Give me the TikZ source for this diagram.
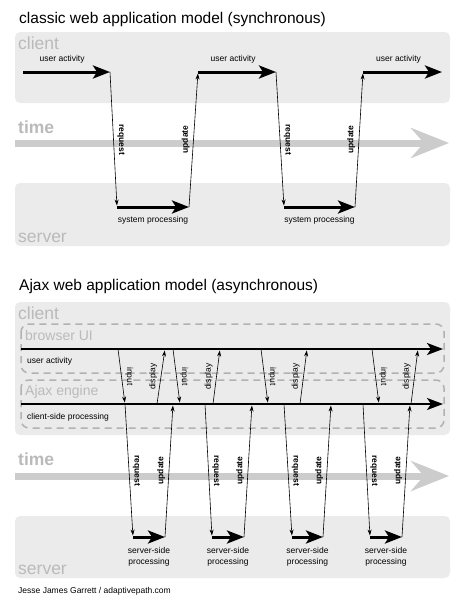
\documentclass[tikz,border=0pt]{standalone}
\usepackage{fontspec}
\setmainfont{Liberation Sans}
\usepackage{tikz}
\usetikzlibrary{arrows.meta}

\definecolor{boxgrey}{HTML}{EBEBEB}
\definecolor{labelgrey}{HTML}{BABABA}
\definecolor{timegrey}{HTML}{CCCCCC}
\definecolor{dashgrey}{HTML}{B2B2B2}

\tikzset{
  zonebox/.style={fill=boxgrey, rounded corners=5pt},
  dashbox/.style={draw=dashgrey, line width=1.5pt, dash pattern=on 7pt off 5pt,
     rounded corners=8pt},
  title/.style={anchor=base west, inner sep=0pt, font=\fontsize{15.5}{18}\selectfont},
  zone/.style={anchor=base west, inner sep=0pt, text=labelgrey,
     font=\fontsize{17.5}{20}\selectfont},
  subzone/.style={zone, font=\fontsize{14}{16}\selectfont},
  timelbl/.style={zone, font=\bfseries\fontsize{17.5}{20}\selectfont},
  timeline/.style={draw=timegrey, line width=7pt,
     -{Stealth[length=38pt, width=30pt, inset=13pt]}},
  flow/.style={line width=3pt, -{Stealth[length=17pt, width=13pt, inset=4pt]}},
  uitrack/.style={line width=2pt, -{Stealth[length=16pt, width=12pt, inset=4pt]}},
  msg/.style={line width=0.6pt, -{Stealth[length=6pt, width=4pt]}, shorten >=1.5pt},
  smalltxt/.style={font=\fontsize{8.5}{11}\selectfont},
  goesdown/.style={smalltxt, anchor=south, rotate=-90, inner sep=3.5pt},
  goesup/.style={smalltxt, anchor=south, rotate=90, inner sep=3.5pt},
  reqlbl/.style={goesdown, font=\bfseries\fontsize{8.5}{11}\selectfont},
  updlbl/.style={goesup, font=\bfseries\fontsize{8.5}{11}\selectfont},
}

\begin{document}
\begin{tikzpicture}[x=1pt, y=-1pt]
   \useasboundingbox (0,0) rectangle (475,598);

   % classic model
   \node[title] (t1) at (19,23) {classic web application model (synchronous)};
   \fill[zonebox] (15,32) rectangle (450,103);
   \fill[zonebox] (15,183) rectangle (450,246);
   \node[zone] (cl1) at (18,49) {client};
   \node[timelbl] (tm1) at (18,133) {time};
   \node[zone] (sv1) at (18,242) {server};

   \coordinate (ts1) at (15,143);
   \coordinate (te1) at (449,143);
   \draw[timeline] (ts1) -- (te1);

   \coordinate (a1) at (23,72);
   \coordinate (a2) at (110,72);
   \coordinate (a3) at (198,72);
   \coordinate (a4) at (276,72);
   \coordinate (a5) at (363,72);
   \coordinate (a6) at (442,72);
   \coordinate (b1) at (117,207);
   \coordinate (b2) at (189,207);
   \coordinate (b3) at (284,207);
   \coordinate (b4) at (355,207);

   \draw[flow] (a1) -- node[smalltxt, pos=.45, above=4pt] {user activity} (a2);
   \draw[msg] (a2) -- node[reqlbl] {request} (b1);
   \draw[flow] (b1) -- node[smalltxt, below=5pt] {system processing} (b2);
   \draw[msg] (b2) -- node[updlbl] {update} (a3);
   \draw[flow] (a3) -- node[smalltxt, pos=.45, above=4pt] {user activity} (a4);
   \draw[msg] (a4) -- node[reqlbl] {request} (b3);
   \draw[flow] (b3) -- node[smalltxt, below=5pt] {system processing} (b4);
   \draw[msg] (b4) -- node[updlbl] {update} (a5);
   \draw[flow] (a5) -- node[smalltxt, pos=.45, above=4pt] {user activity} (a6);

   % Ajax model
   \node[title] (t2) at (19,290) {Ajax web application model (asynchronous)};
   \fill[zonebox] (15,302) rectangle (450,435);
   \fill[zonebox] (15,516) rectangle (450,578);
   \draw[dashbox] (21,324) rectangle (444,373);
   \draw[dashbox] (21,380) rectangle (444,428);
   \node[zone] (cl2) at (18,319) {client};
   \node[subzone] (bui) at (25,340) {browser UI};
   \node[subzone] (eng) at (25,395) {Ajax engine};
   \node[timelbl] (tm2) at (18,465) {time};
   \node[zone] (sv2) at (18,574) {server};

   \coordinate (ts2) at (15,476);
   \coordinate (te2) at (449,476);
   \draw[timeline] (ts2) -- (te2);

   \coordinate (ui0) at (21,349);
   \coordinate (ui9) at (443,349);
   \coordinate (en0) at (21,404);
   \coordinate (en9) at (443,404);
   \draw[uitrack] (ui0) -- (ui9);
   \draw[uitrack] (en0) -- (en9);
   \node[smalltxt, anchor=base west, inner sep=0pt] (ua) at (27,363) {user activity};
   \node[smalltxt, anchor=base west, inner sep=0pt] (csp) at (27,419) {client-side processing};

   % browser UI <-> Ajax engine
   \coordinate (i1a) at (118,349);  \coordinate (i1b) at (125,404);
   \coordinate (i2a) at (173,349);  \coordinate (i2b) at (180,404);
   \coordinate (i3a) at (261,349);  \coordinate (i3b) at (268,404);
   \coordinate (i4a) at (372,349);  \coordinate (i4b) at (379,404);
   \coordinate (d1a) at (157,404);  \coordinate (d1b) at (165,349);
   \coordinate (d2a) at (213,404);  \coordinate (d2b) at (220,349);
   \coordinate (d3a) at (300,404);  \coordinate (d3b) at (307,349);
   \coordinate (d4a) at (411,404);  \coordinate (d4b) at (418,349);

   \draw[msg] (i1a) -- node[goesdown] {input} (i1b);
   \draw[msg] (d1a) -- node[goesup] {display} (d1b);
   \draw[msg] (i2a) -- node[goesdown] {input} (i2b);
   \draw[msg] (d2a) -- node[goesup] {display} (d2b);
   \draw[msg] (i3a) -- node[goesdown] {input} (i3b);
   \draw[msg] (d3a) -- node[goesup] {display} (d3b);
   \draw[msg] (i4a) -- node[goesdown] {input} (i4b);
   \draw[msg] (d4a) -- node[goesup] {display} (d4b);

   % Ajax engine <-> server
   \coordinate (r1a) at (125,404);  \coordinate (r1b) at (133,537);
   \coordinate (r2a) at (205,404);  \coordinate (r2b) at (212,537);
   \coordinate (r3a) at (284,404);  \coordinate (r3b) at (292,537);
   \coordinate (r4a) at (363,404);  \coordinate (r4b) at (370,537);
   \coordinate (p1) at (165,537);   \coordinate (u1) at (173,404);
   \coordinate (p2) at (244,537);   \coordinate (u2) at (252,404);
   \coordinate (p3) at (323,537);   \coordinate (u3) at (331,404);
   \coordinate (p4) at (402,537);   \coordinate (u4) at (410,404);

   \draw[msg] (r1a) -- node[reqlbl] {request} (r1b);
   \draw[flow] (r1b) -- node[smalltxt, below=6pt, align=center] {server-side\\processing} (p1);
   \draw[msg] (p1) -- node[updlbl] {update} (u1);
   \draw[msg] (r2a) -- node[reqlbl] {request} (r2b);
   \draw[flow] (r2b) -- node[smalltxt, below=6pt, align=center] {server-side\\processing} (p2);
   \draw[msg] (p2) -- node[updlbl] {update} (u2);
   \draw[msg] (r3a) -- node[reqlbl] {request} (r3b);
   \draw[flow] (r3b) -- node[smalltxt, below=6pt, align=center] {server-side\\processing} (p3);
   \draw[msg] (p3) -- node[updlbl] {update} (u3);
   \draw[msg] (r4a) -- node[reqlbl] {request} (r4b);
   \draw[flow] (r4b) -- node[smalltxt, below=6pt, align=center] {server-side\\processing} (p4);
   \draw[msg] (p4) -- node[updlbl] {update} (u4);

   \node[smalltxt, anchor=base west, inner sep=0pt] (credit) at (18,593)
      {Jesse James Garrett / adaptivepath.com};
\end{tikzpicture}
\end{document}
